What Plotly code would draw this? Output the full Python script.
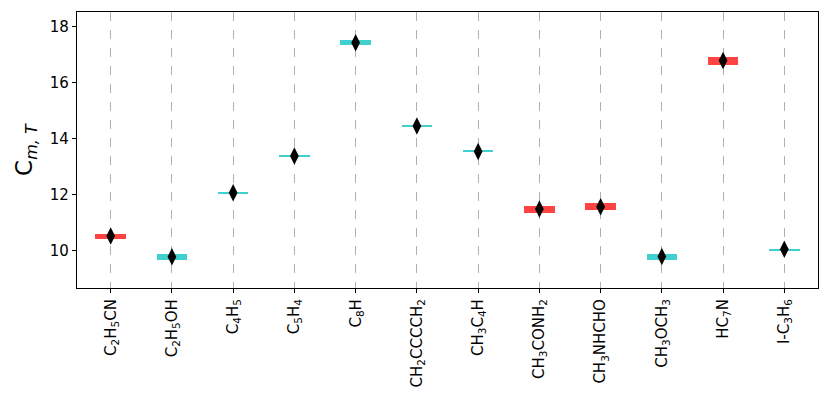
import plotly.graph_objects as go

categories = ["C<sub>2</sub>H<sub>5</sub>CN", "C<sub>2</sub>H<sub>5</sub>OH", "C<sub>4</sub>H<sub>5</sub>",
              "C<sub>5</sub>H<sub>4</sub>", "C<sub>8</sub>H", "CH<sub>2</sub>CCCCH<sub>2</sub>",
              "CH<sub>3</sub>C<sub>4</sub>H", "CH<sub>3</sub>CONH<sub>2</sub>", "CH<sub>3</sub>NHCHO",
              "CH<sub>3</sub>OCH<sub>3</sub>", "HC<sub>7</sub>N", "I-C<sub>3</sub>H<sub>6</sub>"]
low = [10.41, 9.68, 12.05, 13.37, 17.33, 14.43, 13.53, 11.36, 11.45, 9.68, 16.64, 10.03]
high = [10.61, 9.89, 12.10, 13.42, 17.51, 14.48, 13.58, 11.62, 11.70, 9.90, 16.93, 10.08]
center = [10.53, 9.79, 12.08, 13.39, 17.42, 14.46, 13.55, 11.50, 11.58, 9.80, 16.79, 10.06]
is_red = [True, False, False, False, False, False, False, True, True, False, True, False]

RED = "#ff4343"
CYAN = "#40d0d0"
colors = [RED if r else CYAN for r in is_red]
x = list(range(len(categories)))

fig = go.Figure()
fig.add_trace(go.Bar(
    x=x, base=low, y=[h - l for h, l in zip(high, low)], width=0.5,
    marker=dict(color=colors, line=dict(width=0)), showlegend=False,
))
fig.add_trace(go.Scatter(
    x=x, y=center, mode="markers",
    marker=dict(symbol="diamond-tall", size=12.5, color="black"), showlegend=False,
))

fig.update_layout(
    width=830, height=412,
    margin=dict(l=69, r=20, t=4, b=132),
    plot_bgcolor="white", paper_bgcolor="white",
    font=dict(family="DejaVu Sans", size=15, color="black"),
    bargap=0,
)
fig.update_xaxes(
    range=[-0.55, 11.55], tickmode="array", tickvals=x, ticktext=categories,
    tickangle=-90, showline=True, linecolor="black", linewidth=1.2, mirror=True,
    ticks="outside", ticklen=4, tickcolor="black", automargin=False,
    showgrid=True, gridcolor="#b0b0b0", griddash="dash", gridwidth=1, zeroline=False,
)
fig.update_yaxes(
    range=[8.68, 18.52], tickvals=[10, 12, 14, 16, 18], automargin=False,
    showline=True, linecolor="black", linewidth=1.2, mirror=True,
    ticks="outside", ticklen=4, tickcolor="black", showgrid=False, zeroline=False,
    title=dict(text="C<sub><i>m, T</i></sub>", font=dict(size=23), standoff=10),
)
fig.write_html("out.html")
